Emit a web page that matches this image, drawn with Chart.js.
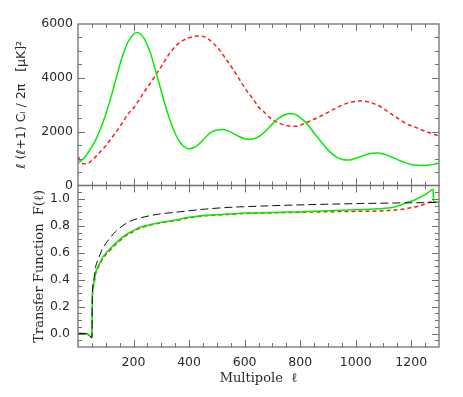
<!DOCTYPE html>
<html>
<head>
<meta charset="utf-8">
<script src="https://cdn.jsdelivr.net/npm/chart.js@4.4.1/dist/chart.umd.min.js"></script>
<style>
  body { margin: 0; background: #fff; }
  canvas { display: block; }
</style>
</head>
<body>
<canvas id="chart" width="463" height="397"></canvas>
<script>
// Top panel: l(l+1)C_l/2pi, two models
const ellGreen = [2, 20, 40, 60, 80, 100, 120, 140, 160, 180, 200, 212, 225, 240, 260, 280, 300, 320, 340, 360, 380, 400, 420, 440, 460, 480, 500, 520, 540, 560, 580, 600, 620, 640, 660, 680, 700, 720, 740, 760, 775, 790, 810, 830, 850, 870, 890, 910, 930, 950, 965, 985, 1000, 1020, 1040, 1060, 1078, 1100, 1120, 1140, 1160, 1180, 1200, 1220, 1240, 1260, 1280, 1300];
const clGreen  = [830, 1000, 1280, 1620, 2080, 2650, 3330, 4080, 4800, 5330, 5620, 5680, 5630, 5430, 4950, 4250, 3500, 2780, 2180, 1720, 1460, 1365, 1420, 1580, 1800, 1980, 2060, 2085, 2030, 1930, 1820, 1740, 1715, 1760, 1880, 2070, 2290, 2480, 2610, 2670, 2670, 2600, 2440, 2230, 1950, 1700, 1440, 1220, 1060, 975, 945, 960, 1010, 1080, 1150, 1195, 1210, 1170, 1100, 1010, 920, 840, 780, 750, 742, 755, 785, 840];

const ellRed = [2, 10, 22, 40, 60, 80, 100, 120, 140, 160, 180, 200, 220, 240, 260, 280, 300, 320, 340, 360, 380, 400, 420, 435, 450, 470, 490, 510, 530, 550, 570, 590, 610, 630, 650, 670, 690, 710, 730, 750, 770, 790, 810, 830, 850, 870, 890, 910, 930, 950, 970, 990, 1010, 1025, 1040, 1060, 1080, 1100, 1120, 1140, 1160, 1180, 1200, 1220, 1240, 1260, 1280, 1300];
const clRed  = [1060, 880, 805, 850, 1030, 1250, 1480, 1750, 2030, 2330, 2650, 2880, 3180, 3500, 3790, 4110, 4420, 4760, 5040, 5260, 5400, 5490, 5540, 5555, 5540, 5440, 5260, 5030, 4740, 4450, 4130, 3800, 3490, 3220, 2920, 2730, 2530, 2380, 2290, 2230, 2200, 2205, 2280, 2370, 2460, 2560, 2660, 2770, 2880, 2980, 3060, 3110, 3135, 3140, 3120, 3060, 2980, 2860, 2720, 2580, 2440, 2310, 2220, 2140, 2050, 1980, 1910, 1840];

// Bottom panel: transfer functions F(l)
const ellFGreen = [2, 20, 35, 50, 52, 57, 63, 75, 87, 100, 111, 135, 171, 200, 219, 250, 291, 351, 400, 460, 540, 600, 660, 780, 900, 1000, 1100, 1140, 1160, 1186, 1210, 1234, 1256, 1279, 1280, 1300];
const fGreen    = [0.0, 0.0, -0.005, -0.03, 0.29, 0.37, 0.45, 0.51, 0.56, 0.595, 0.62, 0.67, 0.733, 0.765, 0.787, 0.805, 0.824, 0.844, 0.864, 0.879, 0.888, 0.895, 0.897, 0.904, 0.912, 0.92, 0.93, 0.94, 0.953, 0.975, 0.99, 1.015, 1.04, 1.072, 0.975, 0.975];

const ellFRed = [2, 20, 35, 50, 52, 57, 63, 75, 87, 100, 111, 135, 171, 200, 219, 250, 291, 351, 400, 460, 540, 600, 660, 780, 900, 1000, 1100, 1160, 1200, 1240, 1265, 1280, 1282, 1300];
const fRed    = [0.0, 0.0, -0.005, -0.03, 0.28, 0.36, 0.44, 0.50, 0.55, 0.585, 0.61, 0.66, 0.725, 0.758, 0.78, 0.80, 0.82, 0.84, 0.86, 0.875, 0.885, 0.892, 0.895, 0.90, 0.905, 0.908, 0.912, 0.922, 0.935, 0.955, 0.975, 0.985, 0.975, 0.975];

const ellFBlack = [2, 20, 35, 50, 52, 57, 63, 70, 80, 87, 105, 135, 160, 185, 230, 290, 350, 460, 540, 660, 780, 900, 1020, 1140, 1260, 1300];
const fBlack    = [0.0, 0.0, -0.005, -0.03, 0.30, 0.40, 0.49, 0.54, 0.59, 0.625, 0.683, 0.757, 0.80, 0.832, 0.862, 0.887, 0.901, 0.925, 0.937, 0.947, 0.955, 0.961, 0.966, 0.970, 0.973, 0.975];

const xTicks = [200, 400, 600, 800, 1000, 1200];
const clTicks = [0, 2000, 4000, 6000];
const fTicks = [0.0, 0.2, 0.4, 0.6, 0.8, 1.0];

const tickFont = { family: 'DejaVu Sans', size: 12.5 };
const titleFont = { family: 'DejaVu Serif', size: 13 };
const textColor = '#2a2a2a';

function pts(xs, ys) {
    return xs.map((x, i) => ({ x: x, y: ys[i] }));
}

// IDL-like frame with inward ticks on every side of both panels
const panelFrame = {
    id: 'panelFrame',
    afterDatasetsDraw(chart) {
        const { ctx, scales } = chart;
        const xs = scales.x;
        const seg = (x1, y1, x2, y2) => {
            ctx.beginPath();
            ctx.moveTo(x1, y1);
            ctx.lineTo(x2, y2);
            ctx.stroke();
        };
        ctx.save();
        ctx.strokeStyle = '#707070';
        ctx.lineWidth = 1;
        [[scales.yTop, 500, clTicks], [scales.yBot, 0.05, fTicks]].forEach(([ys, step, majors]) => {
            for (let v = 50; v < xs.max; v += 50) {
                const px = Math.round(xs.getPixelForValue(v)) + 0.5;
                const len = v % 200 === 0 ? 7 : 4;
                seg(px, ys.bottom, px, ys.bottom - len);
                seg(px, ys.top, px, ys.top + len);
            }
            const n = Math.round((ys.max - ys.min) / step);
            for (let i = 1; i < n; i++) {
                const v = ys.min + i * step;
                const py = Math.round(ys.getPixelForValue(v)) + 0.5;
                const major = majors.some(m => Math.abs(m - v) < step / 10);
                const len = major ? 7 : 4;
                seg(xs.left, py, xs.left + len, py);
                seg(xs.right, py, xs.right - len, py);
            }
            ctx.lineWidth = 1.3;
            ctx.strokeRect(xs.left, ys.top, xs.right - xs.left, ys.bottom - ys.top);
            ctx.lineWidth = 1;
        });
        ctx.restore();
    }
};

new Chart(document.getElementById('chart'), {
    type: 'line',
    data: {
        datasets: [
            { data: pts(ellGreen, clGreen), yAxisID: 'yTop', borderColor: '#00ee00', borderWidth: 1.5 },
            { data: pts(ellRed, clRed), yAxisID: 'yTop', borderColor: '#ff1a1a', borderWidth: 1.5, borderDash: [4, 3] },
            { data: pts(ellFBlack, fBlack), yAxisID: 'yBot', borderColor: '#111', borderWidth: 1, borderDash: [8, 4] },
            { data: pts(ellFGreen, fGreen), yAxisID: 'yBot', borderColor: '#00ee00', borderWidth: 1.5 },
            { data: pts(ellFRed, fRed), yAxisID: 'yBot', borderColor: '#ff1a1a', borderWidth: 1.5, borderDash: [4, 3] }
        ]
    },
    options: {
        responsive: false,
        animation: false,
        layout: { padding: { top: 24, right: 24, left: 0, bottom: 0 } },
        elements: {
            point: { radius: 0 },
            line: { cubicInterpolationMode: 'monotone', fill: false }
        },
        plugins: { legend: { display: false }, tooltip: { enabled: false } },
        scales: {
            x: {
                type: 'linear', min: 0, max: 1300,
                grid: { display: false, drawTicks: false }, border: { display: false },
                afterBuildTicks: s => { s.ticks = xTicks.map(v => ({ value: v })); },
                afterFit: s => { s.height = 50; },
                ticks: { font: tickFont, color: textColor, padding: 8, maxRotation: 0, callback: v => String(v) },
                title: { display: true, text: 'Multipole  \u2113', font: titleFont, color: textColor, padding: { top: 0, bottom: 11 } }
            },
            yBot: {
                type: 'linear', position: 'left', stack: 'panels', stackWeight: 1,
                min: -0.1, max: 1.1,
                grid: { display: false, drawTicks: false }, border: { display: false },
                afterBuildTicks: s => { s.ticks = fTicks.map(v => ({ value: v })); },
                afterFit: s => { s.width = 78; },
                ticks: { font: tickFont, color: textColor, padding: 8, callback: v => v.toFixed(1) },
                title: { display: true, text: 'Transfer Function  F(\u2113)', font: titleFont, color: textColor, padding: { top: 32, bottom: 0 } }
            },
            yTop: {
                type: 'linear', position: 'left', stack: 'panels', stackWeight: 1,
                min: 0, max: 6000,
                grid: { display: false, drawTicks: false }, border: { display: false },
                afterBuildTicks: s => { s.ticks = clTicks.map(v => ({ value: v })); },
                afterFit: s => { s.width = 78; },
                ticks: { font: tickFont, color: textColor, padding: 5, callback: v => String(v) },
                title: { display: true, text: '\u2113 (\u2113+1) C\u2097 / 2\u03c0   [\u03bcK]\u00b2', font: { family: 'DejaVu Sans', size: 12.5 }, color: textColor, padding: { top: 14, bottom: 0 } }
            }
        }
    },
    plugins: [panelFrame]
});
</script>
</body>
</html>
